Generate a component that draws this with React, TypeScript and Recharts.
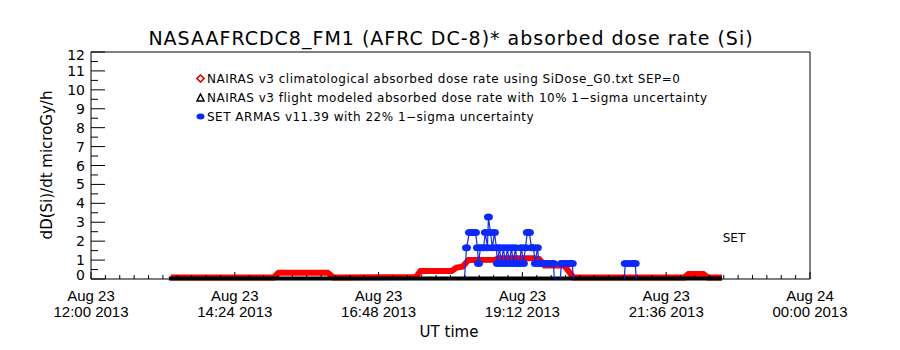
import { LineChart, Line, XAxis, YAxis, Legend } from 'recharts'

// UT hours after Aug 23 00:00
const redHours = [13.33, 15.05, 15.13, 15.95, 16.05, 17.42, 17.5, 18.02, 18.1, 18.2, 18.3, 18.75, 18.8, 19.4, 19.48, 19.57, 19.9, 20.05, 21.9, 21.97, 22.22, 22.3, 22.53]
const redValues = [0.08, 0.08, 0.33, 0.33, 0.08, 0.1, 0.42, 0.42, 0.6, 0.65, 1.0, 1.02, 1.1, 1.1, 1.06, 0.72, 0.72, 0.08, 0.08, 0.26, 0.26, 0.08, 0.08]

const blackHours = [13.3, 15.1, 16.0, 17.5, 18.5, 20.05, 21.9, 22.53]
const blackValues = [0.03, 0.03, 0.03, 0.03, 0.03, 0.03, 0.03, 0.03]

const blueHours = [
  18.233, 18.267, 18.317, 18.367, 18.417, 18.45, 18.467, 18.5, 18.55, 18.583,
  18.617, 18.633, 18.667, 18.7, 18.733, 18.767, 18.783, 18.817, 18.85, 18.883,
  18.917, 18.95, 18.983, 19.017, 19.05, 19.083, 19.117, 19.15, 19.183, 19.217,
  19.25, 19.283, 19.317, 19.35, 19.383, 19.417, 19.45, 19.483, 19.533, 19.583,
  19.633, 19.683, 19.717, 19.733, 19.833, 19.85, 19.9, 19.95, 20.0, 20.033,
  20.05, 20.5, 20.9, 20.917, 20.983, 21.05, 21.083, 21.1,
]
const blueValues = [
  0, 1.65, 2.46, 2.46, 2.46, 1.65, 0.82, 1.65, 1.65, 2.46,
  1.65, 3.28, 2.46, 1.65, 2.46, 1.65, 0.82, 1.65, 0.82, 1.65,
  0.82, 1.65, 0.82, 1.65, 0.82, 1.65, 0.82, 0.82, 1.65, 0.82,
  1.65, 2.46, 2.46, 1.65, 1.65, 0.82, 1.65, 0.82, 0.82, 0.82,
  0.82, 0.82, 0.82, 0, 0, 0.82, 0.82, 0.82, 0.82, 0.82,
  0, null, 0, 0.82, 0.82, 0.82, 0.82, 0,
]

const xDateLabels = ['Aug 23', 'Aug 23', 'Aug 23', 'Aug 23', 'Aug 23', 'Aug 24']
const xTimeLabels = ['12:00 2013', '14:24 2013', '16:48 2013', '19:12 2013', '21:36 2013', '00:00 2013']
const legendLabels = [
  'NAIRAS v3 climatological absorbed dose rate using SiDose_G0.txt SEP=0',
  'NAIRAS v3 flight modeled absorbed dose rate with 10% 1\u2212sigma uncertainty',
  'SET ARMAS v11.39 with 22% 1\u2212sigma uncertainty',
]

const redData = redHours.map((t, i) => ({ t, v: redValues[i] }))
const blackData = blackHours.map((t, i) => ({ t, v: blackValues[i] }))
const blueData = blueHours.map((t, i) => ({ t, v: blueValues[i] }))

const xTicks = Array.from({ length: 51 }, (_, i) => Math.round((12 + i * 0.24) * 1000) / 1000)
const yTicks = Array.from({ length: 25 }, (_, i) => i * 0.5)

const FONT = 'DejaVu Sans, sans-serif'

const LeftTick = (props: any) => {
  const { x, y, payload } = props
  const v = payload.value
  const major = Number.isInteger(v)
  const ax = x + 6
  let dy = 5
  if (v === 12) dy += 3
  if (v === 0) dy -= 4
  return (
    <g>
      <line x1={ax} x2={ax + (major ? 14 : 7)} y1={y} y2={y} stroke="#000" />
      {major && (
        <text x={x} y={y + dy} textAnchor="end" fontSize={14} fontFamily={FONT} fill="#000">
          {v}
        </text>
      )}
    </g>
  )
}

const RightTick = (props: any) => {
  const { x, y, payload } = props
  const major = Number.isInteger(payload.value)
  return <line x1={x} x2={x - (major ? 14 : 7)} y1={y} y2={y} stroke="#000" />
}

const BottomTick = (props: any) => {
  const { x, y, index } = props
  const major = index % 10 === 0
  const k = index / 10
  return (
    <g>
      <line x1={x} x2={x} y1={y} y2={y - (major ? 7 : 4)} stroke="#000" />
      {major && (
        <text x={x} textAnchor="middle" fontSize={15} fontFamily="Liberation Sans, sans-serif" fill="#000">
          <tspan x={x} y={y + 22}>{xDateLabels[k]}</tspan>
          <tspan x={x} y={y + 38}>{xTimeLabels[k]}</tspan>
        </text>
      )}
    </g>
  )
}

const TopTick = (props: any) => {
  const { x, y, index } = props
  const major = index % 10 === 0
  return <line x1={x} x2={x} y1={y} y2={y + (major ? 7 : 4)} stroke="#000" />
}

const BlueDot = (props: any) => {
  const { cx, cy, payload, index } = props
  if (!payload || !payload.v) return <g key={index} />
  return <ellipse key={index} cx={cx} cy={cy} rx={4.5} ry={3.5} fill="#0a28ff" />
}

const LegendBox = () => (
  <div style={{ fontFamily: FONT, fontSize: 12, letterSpacing: 0.5, color: '#000', lineHeight: '19px', whiteSpace: 'nowrap' }}>
    <div>
      <svg width={9} height={9} style={{ marginRight: 2 }}>
        <polygon points="4.5,1 8,4.5 4.5,8 1,4.5" fill="none" stroke="#e00000" strokeWidth={1.6} />
      </svg>
      {legendLabels[0]}
    </div>
    <div>
      <svg width={9} height={9} style={{ marginRight: 2 }}>
        <polygon points="4.5,1 8,8 1,8" fill="none" stroke="#000" strokeWidth={1.5} />
      </svg>
      {legendLabels[1]}
    </div>
    <div>
      <svg width={9} height={9} style={{ marginRight: 2 }}>
        <ellipse cx={4.5} cy={4.5} rx={4} ry={3} fill="#0a28ff" />
      </svg>
      {legendLabels[2]}
    </div>
  </div>
)

export default function App() {
  return (
    <div style={{ position: 'absolute', left: 0, top: 0, width: 900, height: 350, background: '#fff' }}>
      <LineChart width={900} height={350} margin={{ top: 51, right: 89, left: 0, bottom: 0 }}>
        <XAxis
          dataKey="t"
          type="number"
          domain={[12, 24]}
          ticks={xTicks}
          interval={0}
          height={71}
          tickSize={0}
          tickMargin={0}
          tickLine={false}
          axisLine={{ stroke: '#000' }}
          tick={<BottomTick />}
        />
        <XAxis
          xAxisId="top"
          orientation="top"
          dataKey="t"
          type="number"
          domain={[12, 24]}
          ticks={xTicks}
          interval={0}
          height={1}
          tickSize={0}
          tickMargin={0}
          tickLine={false}
          axisLine={{ stroke: '#000' }}
          tick={<TopTick />}
        />
        <YAxis
          type="number"
          domain={[0, 12]}
          ticks={yTicks}
          interval={0}
          width={91}
          tickSize={0}
          tickMargin={6}
          tickLine={false}
          axisLine={{ stroke: '#000' }}
          tick={<LeftTick />}
        />
        <YAxis
          yAxisId="right"
          orientation="right"
          type="number"
          domain={[0, 12]}
          ticks={yTicks}
          interval={0}
          width={1}
          tickSize={0}
          tickMargin={0}
          tickLine={false}
          axisLine={{ stroke: '#000' }}
          tick={<RightTick />}
        />
        <Legend
          layout="vertical"
          align="center"
          verticalAlign="middle"
          wrapperStyle={{ left: 196, top: 70, width: 580 }}
          content={<LegendBox />}
        />
        <Line data={redData} dataKey="v" type="linear" stroke="#ff0000" strokeWidth={6} dot={false} isAnimationActive={false} />
        <Line data={blackData} dataKey="v" type="linear" stroke="#000" strokeWidth={4} dot={false} isAnimationActive={false} />
        <Line data={blueData} dataKey="v" type="linear" stroke="#0a28ff" strokeWidth={1.2} dot={BlueDot} isAnimationActive={false} />
        <text x={451} y={45} textAnchor="middle" fontSize={19} letterSpacing={1} fontFamily={FONT} fill="#000">
          NASAAFRCDC8_FM1 (AFRC DC-8)* absorbed dose rate (Si)
        </text>
        <text x={52} y={165} transform="rotate(-90 52 165)" textAnchor="middle" fontSize={15} fontFamily={FONT} fill="#000">
          dD(Si)/dt microGy/h
        </text>
        <text x={449} y={337} textAnchor="middle" fontSize={15} fontFamily={FONT} fill="#000">
          UT time
        </text>
        <text x={734} y={242} textAnchor="middle" fontSize={12} fontFamily={FONT} fill="#000">
          SET
        </text>
      </LineChart>
    </div>
  )
}
